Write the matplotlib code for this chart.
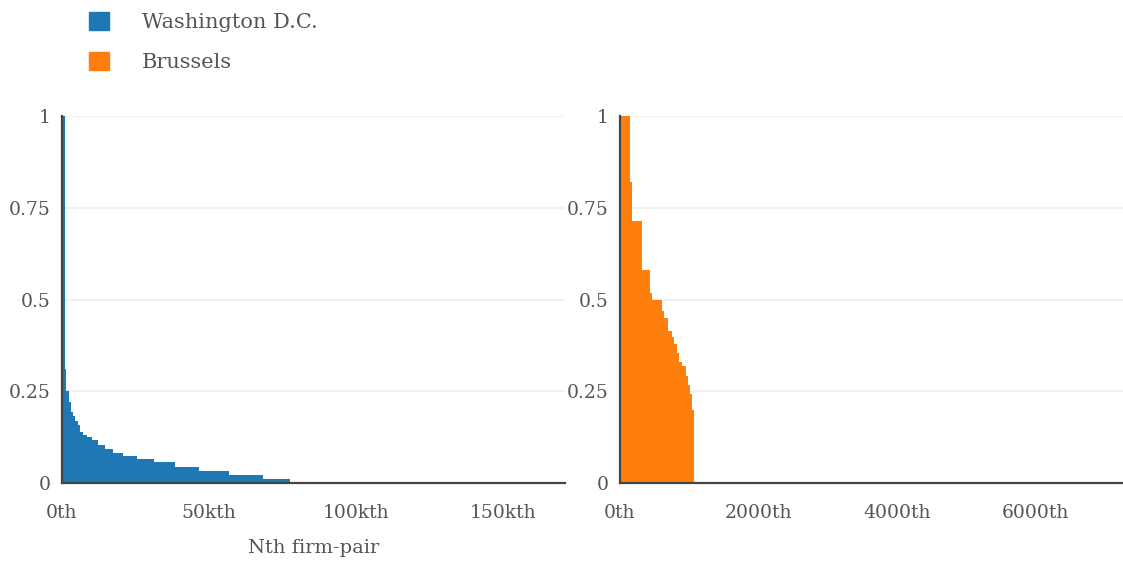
import matplotlib.pyplot as plt
from matplotlib.patches import Patch

plt.rcParams["font.family"] = ["DejaVu Serif"]

# share of connections, sorted descending, as step runs over the Nth firm-pair
dc_edges = [0, 900, 1474, 2268, 2948, 3628, 4422, 5330, 6237, 7256, 8500,
            10090, 12130, 14630, 17460, 20860, 25510, 31410, 38440, 46720,
            56920, 68490, 77340]
dc_values = [1.0, 0.311, 0.252, 0.22, 0.193, 0.184, 0.170, 0.157, 0.139,
             0.130, 0.125, 0.116, 0.104, 0.093, 0.083, 0.073, 0.066, 0.057,
             0.044, 0.033, 0.023, 0.010]

bru_edges = [0, 144, 168, 313, 438, 457, 606, 640, 697, 746, 784, 818, 856,
             890, 952, 986, 1015, 1039, 1073]
bru_values = [1.0, 0.819, 0.713, 0.580, 0.519, 0.500, 0.470, 0.450, 0.415,
              0.399, 0.379, 0.354, 0.329, 0.320, 0.293, 0.266, 0.243, 0.199]

dc_ticks = [0, 50000, 100000, 150000]
dc_ticklabels = ["0th", "50kth", "100kth", "150kth"]
bru_ticks = [0, 2000, 4000, 6000]
bru_ticklabels = ["0th", "2000th", "4000th", "6000th"]
y_ticks = [0, 0.25, 0.5, 0.75, 1]
y_ticklabels = ["0", "0.25", "0.5", "0.75", "1"]

BLUE = "#1f77b4"
ORANGE = "#ff7f0e"
TEXT = "#555555"
AXIS = "#444444"

fig = plt.figure(figsize=(11.23, 5.63), dpi=100)
ax1 = fig.add_axes([0.0552, 0.142, 0.448, 0.652])
ax2 = fig.add_axes([0.552, 0.142, 0.448, 0.652])

ax1.stairs(dc_values, dc_edges, fill=True, color=BLUE, linewidth=0)
ax2.stairs(bru_values, bru_edges, fill=True, color=ORANGE, linewidth=0)

for ax, xmax, ticks, labels in [(ax1, 171000, dc_ticks, dc_ticklabels),
                                (ax2, 7260, bru_ticks, bru_ticklabels)]:
    ax.set_xlim(0, xmax)
    ax.set_ylim(0, 1)
    ax.set_xticks(ticks, labels)
    ax.set_yticks(y_ticks, y_ticklabels)
    ax.tick_params(length=0, labelsize=13.5, labelcolor=TEXT)
    ax.tick_params(axis="x", pad=15)
    ax.tick_params(axis="y", pad=8)
    ax.grid(axis="y", color="#eeeeee", linewidth=1.2)
    ax.set_axisbelow(True)
    for side in ["top", "right"]:
        ax.spines[side].set_visible(False)
    for side in ["left", "bottom"]:
        ax.spines[side].set_color(AXIS)
        ax.spines[side].set_linewidth(1.6)
        ax.spines[side].set_zorder(5)

ax1.set_xlabel("Nth firm-pair", fontsize=14, color=TEXT, labelpad=12)

handles = [Patch(color=BLUE, label="Washington D.C."),
           Patch(color=ORANGE, label="Brussels")]
fig.legend(handles=handles, loc="upper left", bbox_to_anchor=(0.063, 1.012),
           frameon=False, fontsize=15, labelcolor=TEXT, handlelength=0.95,
           handleheight=0.95, handletextpad=1.55, labelspacing=0.95)

fig.savefig("out.png", dpi=100)
